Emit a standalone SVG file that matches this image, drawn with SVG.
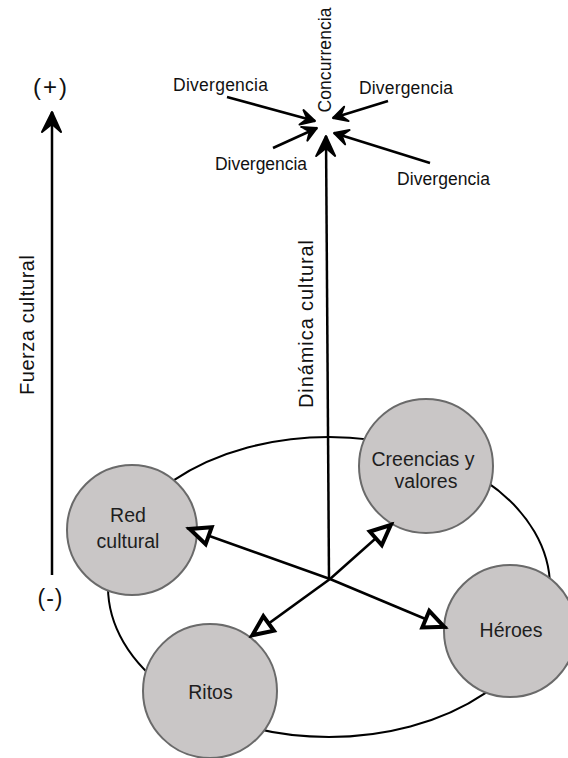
<svg xmlns="http://www.w3.org/2000/svg" width="568" height="758" viewBox="0 0 568 758">
  <style>
    .node circle { fill: #c9c6c6; stroke: #6a6a6a; stroke-width: 2; }
    .node text { font-family: "Liberation Sans", Arial, sans-serif; font-size: 19.5px; fill: #1e1e1e; text-anchor: middle; }
    .lbl { font-family: "Liberation Sans", Arial, sans-serif; fill: #111; text-anchor: middle; }
    .conn line { stroke: #000; stroke-width: 2.5; fill: none; }
    .ring { fill: none; stroke: #000; stroke-width: 2; }
  </style>
  <defs>
    <marker id="open" markerUnits="userSpaceOnUse" orient="auto" overflow="visible" markerWidth="30" markerHeight="30" refX="0" refY="0">
      <path d="M-3,0 L-23,-9 L-23,9 Z" fill="#fff" stroke="#000" stroke-width="4" stroke-linejoin="miter"/>
    </marker>
    <marker id="barb" markerUnits="userSpaceOnUse" orient="auto" overflow="visible" markerWidth="20" markerHeight="20" refX="0" refY="0">
      <path d="M0,0 L-14,-7.5 L-8,0 L-14,7.5 Z" fill="#000" stroke="#000" stroke-width="2" stroke-linejoin="round"/>
    </marker>
    <marker id="barb-lg" markerUnits="userSpaceOnUse" orient="auto" overflow="visible" markerWidth="30" markerHeight="30" refX="0" refY="0">
      <path d="M0,0 L-20,-10 L-12,0 L-20,9 Z" fill="#000" stroke="#000" stroke-width="2" stroke-linejoin="round"/>
    </marker>
  </defs>

  <rect width="568" height="758" fill="#fff"/>

  <ellipse class="ring" cx="329" cy="587" rx="221" ry="150"/>

  <g id="node-red" class="node">
    <circle cx="132" cy="530" r="65"/>
    <text x="128" y="522">Red</text>
    <text x="128" y="548">cultural</text>
  </g>
  <g id="node-creencias" class="node">
    <circle cx="426" cy="466" r="67"/>
    <text x="423" y="466">Creencias y</text>
    <text x="426" y="488">valores</text>
  </g>
  <g id="node-heroes" class="node">
    <circle cx="510" cy="631" r="66"/>
    <text x="511" y="637">Héroes</text>
  </g>
  <g id="node-ritos" class="node">
    <circle cx="210" cy="691" r="67"/>
    <text x="210.5" y="699">Ritos</text>
  </g>

  <g id="connectors" class="conn">
    <line x1="52" y1="575" x2="52" y2="112" marker-end="url(#barb-lg)"/>
    <line x1="329" y1="579" x2="326" y2="136" marker-end="url(#barb-lg)"/>
    <line x1="227" y1="97" x2="315" y2="121" marker-end="url(#barb)"/>
    <line x1="388" y1="101" x2="333" y2="118" marker-end="url(#barb)"/>
    <line x1="273" y1="148" x2="317" y2="128" marker-end="url(#barb)"/>
    <line x1="430" y1="163" x2="334" y2="133" marker-end="url(#barb)"/>
    <line x1="330" y1="579" x2="187" y2="528" marker-end="url(#open)"/>
    <line x1="330" y1="579" x2="393" y2="523" marker-end="url(#open)"/>
    <line x1="330" y1="579" x2="250" y2="637" marker-end="url(#open)"/>
    <line x1="330" y1="579" x2="447" y2="628" marker-end="url(#open)"/>
  </g>

  <g id="labels">
    <text class="lbl" x="50" y="95" font-size="24" textLength="34">(+)</text>
    <text class="lbl" x="50" y="606" font-size="23" textLength="25">(-)</text>
    <text class="lbl" font-size="20" textLength="140" transform="translate(34,325) rotate(-90)">Fuerza cultural</text>
    <text class="lbl" font-size="20" textLength="168" transform="translate(313,324) rotate(-90)">Dinámica cultural</text>
    <text class="lbl" font-size="17.5" textLength="105" transform="translate(331,60) rotate(-90)">Concurrencia</text>
    <text class="lbl" x="220.5" y="91" font-size="17.5" textLength="95">Divergencia</text>
    <text class="lbl" x="406" y="94" font-size="17.5" textLength="94">Divergencia</text>
    <text class="lbl" x="261" y="170" font-size="17.5" textLength="92">Divergencia</text>
    <text class="lbl" x="443.5" y="185" font-size="17.5" textLength="93">Divergencia</text>
  </g>
</svg>
